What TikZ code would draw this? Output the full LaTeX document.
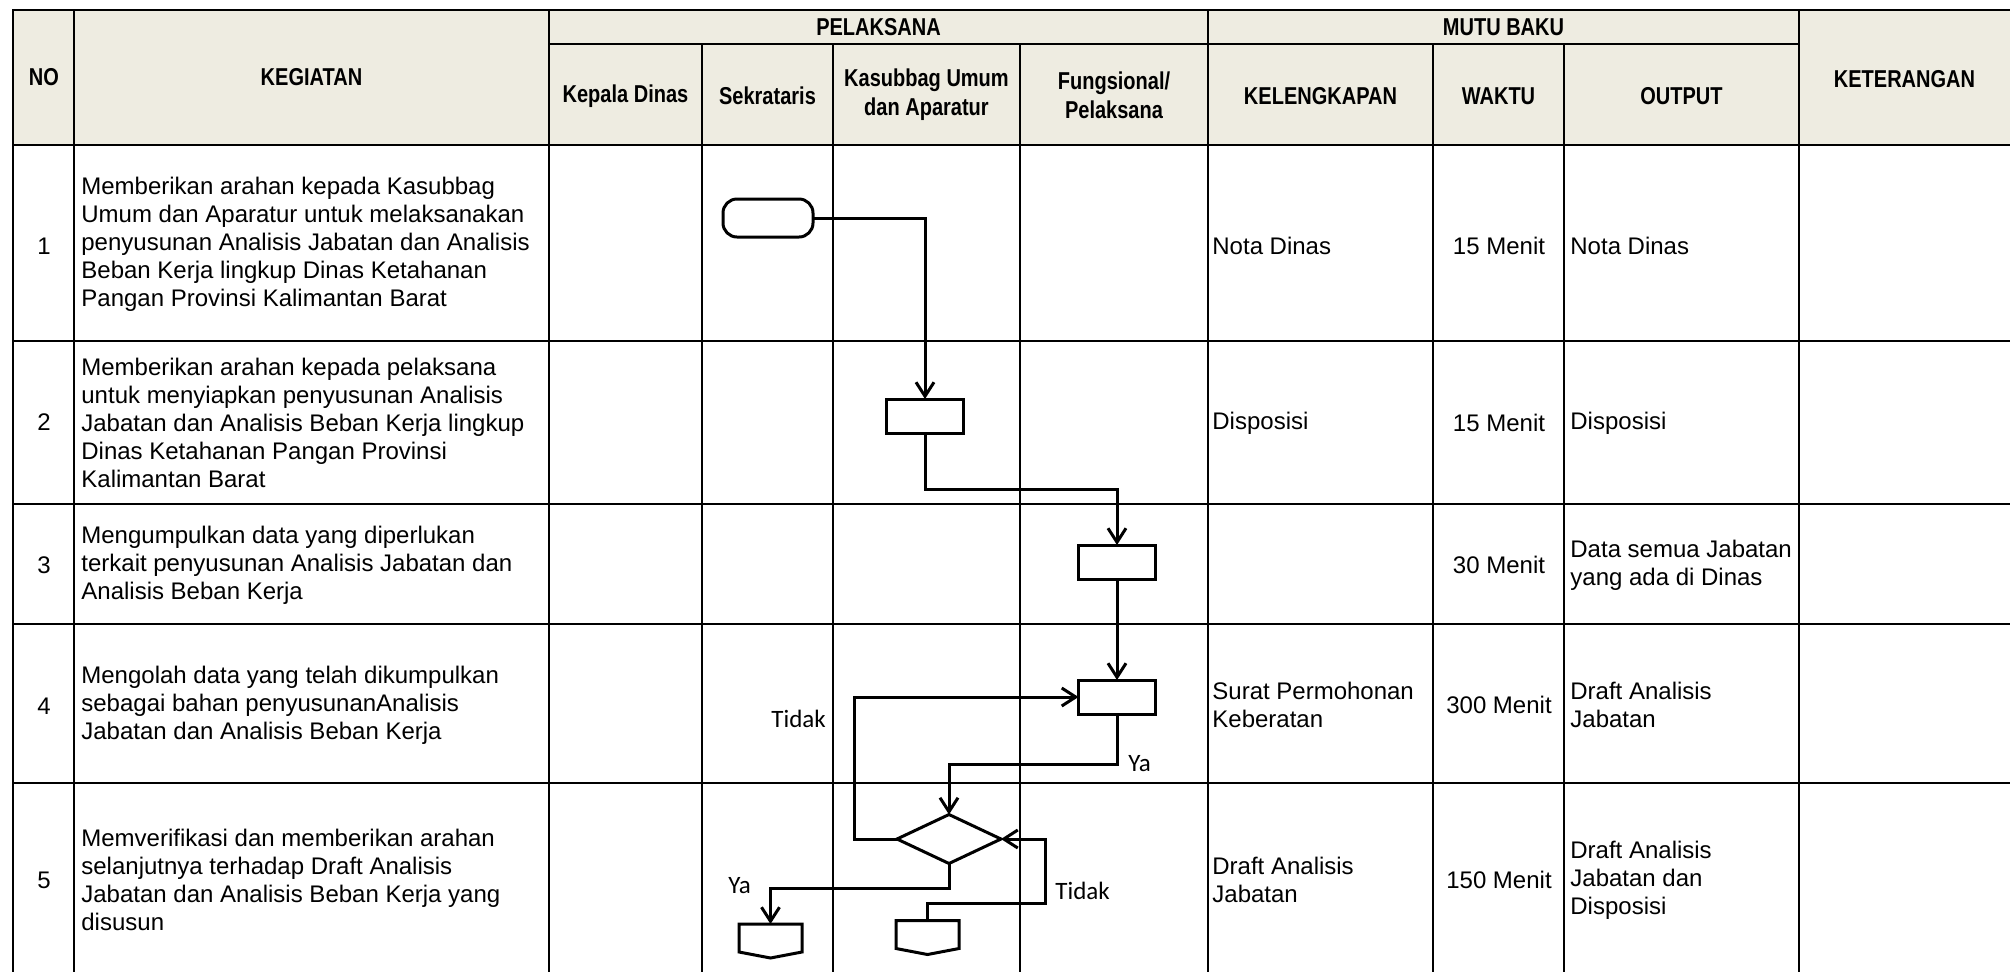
\documentclass[tikz,border=0pt]{standalone}
\usepackage{fontspec}
\setmainfont{Liberation Sans}
\newfontfamily\calib{Carlito}
\newfontfamily\narrowbold[FakeStretch=0.82]{Liberation Sans Bold}
\usetikzlibrary{arrows.meta,shapes.geometric}
\definecolor{headfill}{RGB}{238,236,225}

\begin{document}
\begin{tikzpicture}[x=0.5pt,y=-0.5pt,
  grid/.style={line width=1pt,line cap=rect},
  flow/.style={line width=1.5pt,line join=miter},
  arr/.style={-{Straight Barb[length=7pt,width=9pt]}},
  hd/.style={font=\narrowbold\fontsize{12.2}{14.5}\selectfont,align=center,inner sep=0pt},
  body/.style={font=\fontsize{12}{14}\selectfont,align=left,inner sep=0pt,anchor=west},
  mid/.style={font=\fontsize{12}{14}\selectfont,inner sep=0pt},
  lbl/.style={font=\calib\fontsize{12.5}{14}\selectfont,inner sep=0pt,anchor=base west},
  procbox/.style={draw,line width=1.5pt,minimum width=38.5pt,minimum height=17pt,inner sep=0pt,outer sep=0pt},
  termbox/.style={draw,line width=1.5pt,rounded corners=7pt,minimum width=45pt,minimum height=19pt,inner sep=0pt,outer sep=0pt},
  decbox/.style={draw,diamond,line width=1.5pt,minimum width=52pt,minimum height=24.5pt,inner sep=0pt,outer sep=0pt},
  offbox/.style={minimum width=31.5pt,minimum height=14pt,inner sep=0pt,outer sep=0pt}
]
\useasboundingbox (0,0) rectangle (2010,971);

% header band
\fill[headfill] (13,10) rectangle (2010,145);

% table rules
\draw[grid] (13,10) -- (2010,10);
\draw[grid] (549,44) -- (1799,44);
\draw[grid] (13,145) -- (2010,145);
\foreach \yy in {341,504,624,783} \draw[grid] (13,\yy) -- (2010,\yy);
\foreach \xx in {13,74,549,1208,1799} \draw[grid] (\xx,10) -- (\xx,971);
\foreach \xx in {702,833,1020,1433,1564} \draw[grid] (\xx,44) -- (\xx,971);

% header texts
\node[hd] (hNo) at (44,77) {NO};
\node[hd] (hKeg) at (311.5,77) {KEGIATAN};
\node[hd] (hPel) at (878.5,27) {PELAKSANA};
\node[hd] (hMutu) at (1503.5,27) {MUTU BAKU};
\node[hd] (hKet) at (1904.5,79) {KETERANGAN};
\node[hd] (hKd) at (625.5,96) {Kepala Dinas};
\node[hd] (hSek) at (767.5,96) {Sekrataris};
\node[hd] (hKas) at (926.5,95) {Kasubbag Umum\\dan Aparatur};
\node[hd] (hFun) at (1114,95) {Fungsional/\\Pelaksana};
\node[hd] (hKel) at (1320.5,96) {KELENGKAPAN};
\node[hd] (hWak) at (1498.5,96) {WAKTU};
\node[hd] (hOut) at (1681.5,96) {OUTPUT};

% row numbers
\node[mid] (n1) at (44,246) {1};
\node[mid] (n2) at (44,422) {2};
\node[mid] (n3) at (44,565) {3};
\node[mid] (n4) at (44,706) {4};
\node[mid] (n5) at (44,880) {5};

% activities
\node[body] (k1) at (81,244) {Memberikan arahan kepada Kasubbag\\Umum dan Aparatur untuk melaksanakan\\penyusunan Analisis Jabatan dan Analisis\\Beban Kerja lingkup Dinas Ketahanan\\Pangan Provinsi Kalimantan Barat};
\node[body] (k2) at (81,423) {Memberikan arahan kepada pelaksana\\untuk menyiapkan penyusunan Analisis\\Jabatan dan Analisis Beban Kerja lingkup\\Dinas Ketahanan Pangan Provinsi\\Kalimantan Barat};
\node[body] (k3) at (81,565) {Mengumpulkan data yang diperlukan\\terkait penyusunan Analisis Jabatan dan\\Analisis Beban Kerja};
\node[body] (k4) at (81,705) {Mengolah data yang telah dikumpulkan\\sebagai bahan penyusunanAnalisis\\Jabatan dan Analisis Beban Kerja};
\node[body] (k5) at (81,880) {Memverifikasi dan memberikan arahan\\selanjutnya terhadap Draft Analisis\\Jabatan dan Analisis Beban Kerja yang\\disusun};

% kelengkapan
\node[body] (l1) at (1212,246) {Nota Dinas};
\node[body] (l2) at (1212,423) {Disposisi};
\node[body] (l4) at (1212,705) {Surat Permohonan\\Keberatan};
\node[body] (l5) at (1212,880) {Draft Analisis\\Jabatan};

% waktu
\node[mid] (w1) at (1499,246) {15 Menit};
\node[mid] (w2) at (1499,423) {15 Menit};
\node[mid] (w3) at (1499,565) {30 Menit};
\node[mid] (w4) at (1499,705) {300 Menit};
\node[mid] (w5) at (1499,880) {150 Menit};

% output
\node[body] (o1) at (1570,246) {Nota Dinas};
\node[body] (o2) at (1570,423) {Disposisi};
\node[body] (o3) at (1570,565) {Data semua Jabatan\\yang ada di Dinas};
\node[body] (o4) at (1570,705) {Draft Analisis\\Jabatan};
\node[body] (o5) at (1570,880) {Draft Analisis\\Jabatan dan\\Disposisi};

% flowchart symbols
\node[termbox] (start) at (768,218) {};
\node[procbox] (p1) at (925,416) {};
\node[procbox] (p2) at (1117,562) {};
\node[procbox] (p3) at (1117,697) {};
\node[decbox] (dec) at (949,839) {};
\node[offbox] (off1) at (770.5,938) {};
\node[offbox] (off2) at (927.5,934.5) {};
\draw[flow] (off1.south east) -- (off1.north east) -- (off1.north west) -- (off1.south west) -- ([yshift=-3pt]off1.south) -- cycle;
\draw[flow] (off2.south east) -- (off2.north east) -- (off2.north west) -- (off2.south west) -- ([yshift=-3pt]off2.south) -- cycle;

% bends of the connectors
\coordinate (j1) at (925,489);
\coordinate (j2) at (949,764);
\coordinate (j3) at (854,697);
\coordinate (j4) at (770.5,888);
\coordinate (j5) at (1045,903);

% connectors
\draw[flow,arr] (start.east) -| (p1.north);
\draw[flow,arr] (p1.south) -- (j1) -| (p2.north);
\draw[flow,arr] (p2.south) -- (p3.north);
\draw[flow,arr] (p3.south) |- (j2) -- (dec.north);
\draw[flow,arr] (dec.west) -| (j3) -- (p3.west);
\draw[flow,arr] (dec.south) |- (j4) -- (off1.north);
\draw[flow,arr] (off2.north) |- (j5) |- (dec.east);

% branch labels
\node[lbl] (t1) at (771,727) {Tidak};
\node[lbl] (y1) at (1128,771) {Ya};
\node[lbl] (y2) at (728,893) {Ya};
\node[lbl] (t2) at (1055,899) {Tidak};
\end{tikzpicture}
\end{document}
